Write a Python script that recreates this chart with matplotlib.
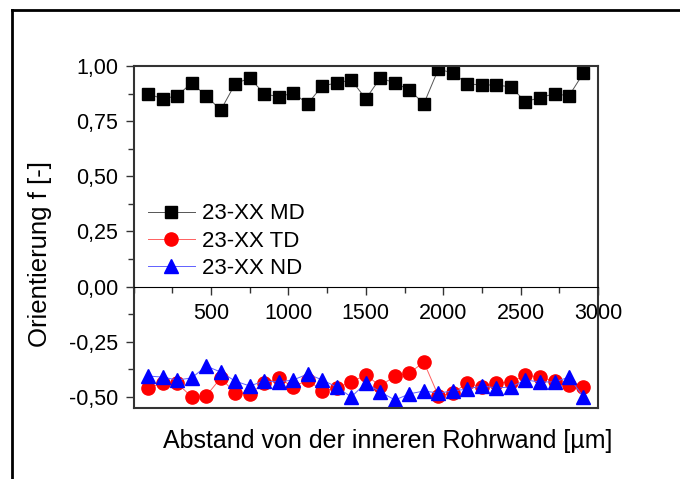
import matplotlib.pyplot as plt
from matplotlib.lines import Line2D
from matplotlib.ticker import FuncFormatter, MultipleLocator

plt.rcParams['font.family'] = ['Liberation Sans', 'DejaVu Sans']

# Abstand von der inneren Rohrwand [µm]
abstand = [94, 188, 281, 375, 469, 563, 656, 750, 844, 938, 1031, 1125, 1219, 1313, 1406, 1500,
           1594, 1688, 1781, 1875, 1969, 2063, 2156, 2250, 2344, 2438, 2531, 2625, 2719, 2813, 2906]

md = [0.874, 0.851, 0.865, 0.923, 0.865, 0.800, 0.919, 0.946, 0.874, 0.860, 0.878, 0.829, 0.910,
      0.923, 0.937, 0.851, 0.946, 0.923, 0.892, 0.829, 0.986, 0.968, 0.919, 0.914, 0.914, 0.905,
      0.838, 0.857, 0.874, 0.865, 0.968]
td = [-0.459, -0.437, -0.437, -0.500, -0.495, -0.414, -0.482, -0.486, -0.437, -0.414, -0.455,
      -0.423, -0.473, -0.459, -0.432, -0.401, -0.450, -0.405, -0.392, -0.342, -0.495, -0.482,
      -0.437, -0.455, -0.437, -0.432, -0.401, -0.410, -0.428, -0.446, -0.455]
nd = [-0.405, -0.410, -0.423, -0.414, -0.360, -0.387, -0.428, -0.450, -0.428, -0.432, -0.423,
      -0.396, -0.423, -0.455, -0.500, -0.437, -0.477, -0.514, -0.486, -0.473, -0.482, -0.473,
      -0.464, -0.450, -0.459, -0.455, -0.423, -0.432, -0.432, -0.410, -0.500]

fig = plt.figure(figsize=(6.8, 4.79), dpi=100)
ax = fig.add_axes([133.6 / 680, 1 - 408 / 479, (598 - 133.6) / 680, (408 - 66) / 479])

ax.plot(abstand, md, color='#555555', lw=0.7, marker='s', ms=8, mfc='black', mec='black',
        label='23-XX MD')
ax.plot(abstand, td, color='#ff6060', lw=0.7, marker='o', ms=9.5, mfc='red', mec='red',
        label='23-XX TD')
ax.plot(abstand, nd, color='#6060ff', lw=0.7, marker='^', ms=10, mfc='blue', mec='blue',
        label='23-XX ND')

ax.set_xlim(0, 3000)
ax.set_ylim(-0.55, 1.0)

# x axis sits on y = 0, like in Origin
ax.spines['bottom'].set_position(('data', 0))
ax.spines['bottom'].set_linewidth(0.8)
ax.add_line(Line2D([0, 1], [0, 0], transform=ax.transAxes, color='#333333', lw=1.5,
                   clip_on=False))
for s in ['left', 'right', 'top']:
    ax.spines[s].set_color('#333333')
    ax.spines[s].set_linewidth(1.5)

ax.set_xticks([500, 1000, 1500, 2000, 2500, 3000])
ax.xaxis.set_minor_locator(MultipleLocator(250))
ax.yaxis.set_major_locator(MultipleLocator(0.25))
ax.yaxis.set_minor_locator(MultipleLocator(0.125))
ax.yaxis.set_major_formatter(FuncFormatter(lambda v, p: f"{v:.2f}".replace('.', ',')))
ax.tick_params(axis='both', which='major', labelsize=15.5, length=6, width=1, direction='out',
               color='#333333')
ax.tick_params(axis='both', which='minor', length=4, width=1, direction='out', color='#333333')
ax.tick_params(axis='x', pad=6)
ax.tick_params(axis='y', pad=5)

fig.text(40 / 680, 1 - 254 / 479, 'Orientierung f [-]', rotation=90, ha='center', va='center',
         fontsize=18.5)
fig.text(388 / 680, 1 - 441 / 479, 'Abstand von der inneren Rohrwand [µm]', ha='center',
         va='center', fontsize=18)

ax.legend(loc='upper left', bbox_to_anchor=(0.031, 0.598), frameon=False, fontsize=16,
          handlelength=2.1, handletextpad=0.35, labelspacing=0.28, borderaxespad=0, borderpad=0)

# outer frame, only left and top edges are visible
fig.add_artist(Line2D([12 / 680, 12 / 680], [0, 1 - 10 / 479], transform=fig.transFigure,
                      color='black', lw=2))
fig.add_artist(Line2D([12 / 680, 1], [1 - 10 / 479, 1 - 10 / 479], transform=fig.transFigure,
                      color='black', lw=2))

fig.savefig('out.png', dpi=100)
